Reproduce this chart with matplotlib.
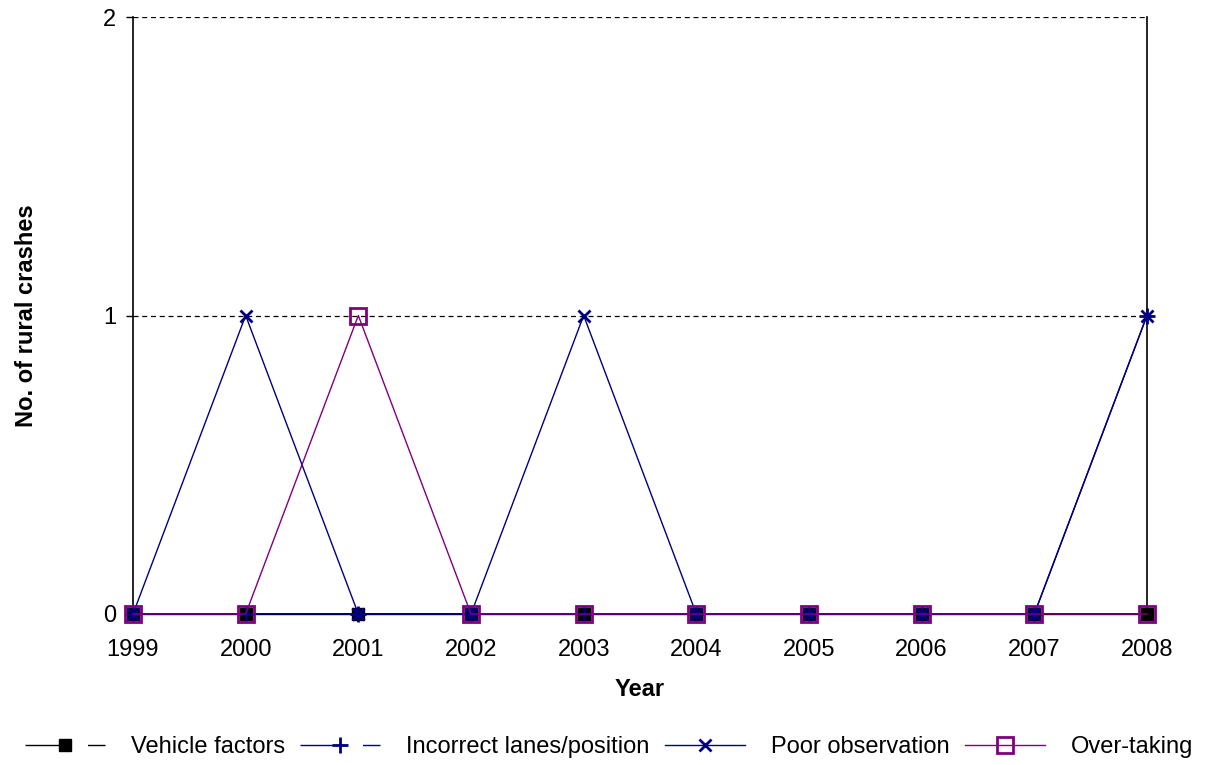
import matplotlib
matplotlib.use("Agg")
import matplotlib.pyplot as plt
from matplotlib.lines import Line2D

plt.rcParams['font.family'] = ['Liberation Sans', 'DejaVu Sans']

years = ['1999', '2000', '2001', '2002', '2003', '2004', '2005', '2006', '2007', '2008']
vehicle_factors = [0, 0, 0, 0, 0, 0, 0, 0, 0, 0]
incorrect_lanes = [0, 0, 0, 0, 0, 0, 0, 0, 0, 1]
poor_observation = [0, 1, 0, 0, 1, 0, 0, 0, 0, 1]
over_taking = [0, 0, 1, 0, 0, 0, 0, 0, 0, 0]
series_names = ['Vehicle factors', 'Incorrect lanes/position', 'Poor observation', 'Over-taking']
y_ticks = [0, 1, 2]

fig = plt.figure(figsize=(12.14, 7.65), dpi=100)
ax = fig.add_axes([133/1214, 1-614/765, (1147-133)/1214, (614-17)/765])

x = list(range(len(years)))
navy = '#000080'
purple = '#800080'

ax.plot(x, vehicle_factors, color='black', lw=1, marker='s', ms=8, mfc='black', mec='black', clip_on=False, zorder=3)
ax.plot(x, incorrect_lanes, color=navy, lw=1, marker='+', ms=11, mew=2, mec=navy, clip_on=False, zorder=3)
ax.plot(x, poor_observation, color=navy, lw=1, marker='x', ms=8, mew=2, mec=navy, clip_on=False, zorder=3)
ax.plot(x, over_taking, color=purple, lw=1, marker='s', ms=12, mfc='none', mew=2, mec=purple, clip_on=False, zorder=4)

ax.set_xlim(0, len(years)-1)
ax.set_ylim(0, 2)
ax.set_xticks(x)
ax.set_xticklabels(years)
ax.set_yticks(y_ticks)
ax.yaxis.grid(True, color='black', ls=(0, (4, 3)), lw=0.9)
ax.set_axisbelow(True)
ax.spines['top'].set_visible(False)
for s in ['left', 'right', 'bottom']:
    ax.spines[s].set_linewidth(1.2)
ax.tick_params(axis='y', length=5, width=1, pad=7, labelsize=17)
ax.tick_params(axis='x', length=3, width=1, pad=15, labelsize=17)

ax.set_xlabel('Year', fontsize=17, fontweight='bold', labelpad=12)
ax.set_ylabel('No. of rural crashes', fontsize=17, fontweight='bold', labelpad=47)

handles = [
    Line2D([], [], color='black', lw=1, ls=(0, (33, 12, 12, 0)), marker='s', ms=8, mfc='black', mec='black'),
    Line2D([], [], color=navy, lw=1, ls=(0, (33, 12, 12, 0)), marker='+', ms=11, mew=2, mec=navy),
    Line2D([], [], color=navy, lw=1, marker='x', ms=8, mew=2, mec=navy),
    Line2D([], [], color=purple, lw=1, marker='s', ms=12, mfc='none', mew=2, mec=purple),
]
fig.legend(handles, series_names, loc='center', bbox_to_anchor=(609/1214, 1-747/765), ncol=4,
           frameon=False, fontsize=17, handlelength=3.39, handletextpad=1.1, columnspacing=0.64,
           borderaxespad=0, borderpad=0)

fig.savefig('out.png', dpi=100)
